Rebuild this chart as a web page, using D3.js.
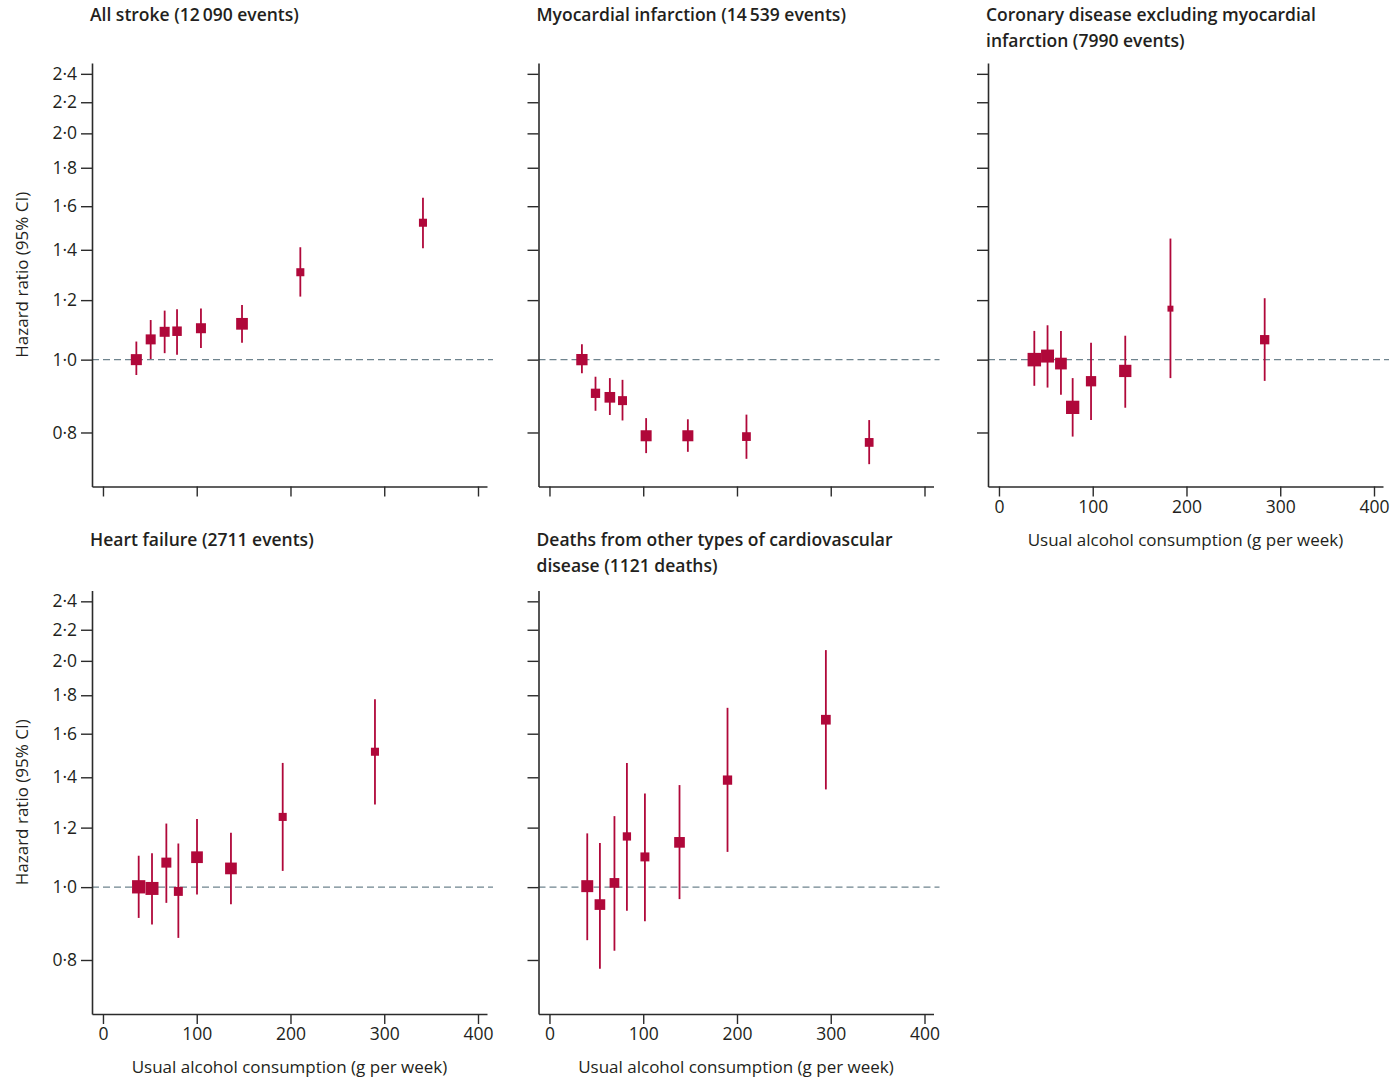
<!DOCTYPE html>
<html>
<head>
<meta charset="utf-8">
<script src="https://cdn.jsdelivr.net/npm/d3@7"></script>
<style>
  body { margin: 0; background: #fff; }
  svg text { font-family: "Open Sans", "DejaVu Sans", sans-serif; fill: #231f20; }
</style>
</head>
<body>
<svg id="chart" width="1393" height="1082"></svg>
<script>
// usual alcohol consumption (g/week) per category, hazard ratio, 95% CI, relative weight
const strokeX  = [35.6, 50.9, 65.8, 79.0, 104.5, 148.3, 210.5, 341.3];
const strokeHR = [1.000, 1.064, 1.089, 1.091, 1.101, 1.116, 1.307, 1.521];
const strokeLo = [0.954, 1.002, 1.020, 1.015, 1.036, 1.053, 1.213, 1.407];
const strokeHi = [1.057, 1.129, 1.162, 1.167, 1.170, 1.182, 1.411, 1.642];
const strokeW  = [0.62, 0.51, 0.51, 0.46, 0.51, 0.70, 0.33, 0.33];

const miX  = [34.6, 49.1, 64.4, 77.9, 103.1, 147.6, 210.1, 341.0];
const miHR = [1.000, 0.902, 0.891, 0.882, 0.792, 0.792, 0.790, 0.776];
const miLo = [0.959, 0.855, 0.844, 0.830, 0.751, 0.754, 0.738, 0.726];
const miHi = [1.048, 0.949, 0.945, 0.940, 0.836, 0.833, 0.845, 0.831];
const miW  = [0.65, 0.44, 0.58, 0.41, 0.62, 0.62, 0.39, 0.39];

const chdX  = [37.7, 51.8, 66.1, 78.6, 98.2, 134.7, 182.9, 283.4];
const chdHR = [1.000, 1.011, 0.988, 0.864, 0.936, 0.966, 1.169, 1.063];
const chdLo = [0.923, 0.918, 0.898, 0.790, 0.831, 0.863, 0.945, 0.937];
const chdHi = [1.092, 1.111, 1.092, 0.945, 1.053, 1.076, 1.449, 1.207];
const chdW  = [0.93, 0.86, 0.70, 0.90, 0.54, 0.77, 0.18, 0.44];

const hfX  = [38.1, 52.3, 67.6, 80.4, 100.3, 136.5, 191.7, 290.1];
const hfHR = [1.001, 0.996, 1.078, 0.987, 1.096, 1.059, 1.240, 1.514];
const hfLo = [0.910, 0.892, 0.953, 0.856, 0.978, 0.949, 1.051, 1.288];
const hfHi = [1.101, 1.109, 1.215, 1.143, 1.232, 1.181, 1.463, 1.778];
const hfW  = [0.90, 0.86, 0.51, 0.41, 0.70, 0.70, 0.33, 0.33];

const othX  = [40.3, 53.8, 69.3, 82.6, 101.8, 138.7, 189.9, 294.8];
const othHR = [1.003, 0.948, 1.013, 1.168, 1.097, 1.147, 1.388, 1.670];
const othLo = [0.850, 0.779, 0.823, 0.930, 0.901, 0.964, 1.114, 1.349];
const othHi = [1.179, 1.145, 1.243, 1.463, 1.332, 1.367, 1.732, 2.067];
const othW  = [0.73, 0.58, 0.48, 0.35, 0.41, 0.58, 0.44, 0.48];

const yTicks = [0.8, 1.0, 1.2, 1.4, 1.6, 1.8, 2.0, 2.2, 2.4];
const xTicks = [0, 100, 200, 300, 400];
const yLabel = "Hazard ratio (95% CI)";
const xLabel = "Usual alcohol consumption (g per week)";

const panels = [
  { title: ["All stroke (12\u2009090 events)"], x: strokeX, hr: strokeHR, lo: strokeLo, hi: strokeHi, w: strokeW, col: 0, row: 0, yLab: true, xLab: false },
  { title: ["Myocardial infarction (14\u2009539 events)"], x: miX, hr: miHR, lo: miLo, hi: miHi, w: miW, col: 1, row: 0, yLab: false, xLab: false },
  { title: ["Coronary disease excluding myocardial", "infarction (7990 events)"], x: chdX, hr: chdHR, lo: chdLo, hi: chdHi, w: chdW, col: 2, row: 0, yLab: false, xLab: true },
  { title: ["Heart failure (2711 events)"], x: hfX, hr: hfHR, lo: hfLo, hi: hfHi, w: hfW, col: 0, row: 1, yLab: true, xLab: true },
  { title: ["Deaths from other types of cardiovascular", "disease (1121 deaths)"], x: othX, hr: othHR, lo: othLo, hi: othHi, w: othW, col: 1, row: 1, yLab: false, xLab: true },
];

const red = "#b0083a";
const axisColor = "#2b2b2b";
const colLeft = [92, 538.5, 988];
const rowTop = [63, 590.5];
const titleBase = [21, 546];
const width = 395;
const height = 423.5;

const svg = d3.select("#chart");

const x = d3.scaleLinear().domain([-11.7, 409.6]).range([0, width]);
const y = d3.scaleLog().domain([0.678, 2.481]).range([height, 0]);
const size = d3.scaleSqrt().domain([0, 1]).range([0, 14]);
const fmt = (d) => d3.format(".1f")(d).replace(".", "\u00b7");

panels.forEach((p) => {
  const g = svg.append("g")
    .attr("transform", `translate(${colLeft[p.col]},${rowTop[p.row]})`);

  // title
  const title = g.append("text")
    .attr("x", -2)
    .attr("y", titleBase[p.row] - rowTop[p.row])
    .style("font-size", "17.5px")
    .style("font-weight", 600);
  p.title.forEach((line, i) => {
    title.append("tspan").attr("x", -2).attr("dy", i === 0 ? 0 : 26).text(line);
  });

  // reference line at HR = 1
  g.append("line")
    .attr("x1", 0)
    .attr("x2", width + 6)
    .attr("y1", y(1))
    .attr("y2", y(1))
    .attr("stroke", "#6f848e")
    .attr("stroke-width", 1.3)
    .attr("stroke-dasharray", "7,4");

  // y axis
  const yAxis = g.append("g")
    .call(d3.axisLeft(y).tickValues(yTicks).tickSize(11).tickSizeOuter(0).tickPadding(4)
      .tickFormat(p.yLab ? fmt : () => ""));

  // x axis
  const xAxis = g.append("g")
    .attr("transform", `translate(0,${height})`)
    .call(d3.axisBottom(x).tickValues(xTicks).tickSize(10).tickSizeOuter(0).tickPadding(4)
      .tickFormat(p.xLab ? d3.format("d") : () => ""));

  [yAxis, xAxis].forEach((ax) => {
    ax.select(".domain").attr("stroke", axisColor).attr("stroke-width", 1.6);
    ax.selectAll(".tick line").attr("stroke", axisColor).attr("stroke-width", 1.4);
    ax.selectAll(".tick text")
      .style("font-size", "17.5px")
      .style("font-family", "\"Open Sans\", sans-serif")
      .attr("fill", "#231f20");
  });

  if (p.yLab) {
    g.append("text")
      .attr("transform", `translate(-64,${height / 2}) rotate(-90)`)
      .attr("text-anchor", "middle")
      .style("font-size", "17px")
      .text(yLabel);
  }

  if (p.xLab) {
    g.append("text")
      .attr("x", width / 2)
      .attr("y", height + 59)
      .attr("text-anchor", "middle")
      .style("font-size", "17px")
      .text(xLabel);
  }

  const pts = p.x.map((v, i) => ({ x: v, hr: p.hr[i], lo: p.lo[i], hi: p.hi[i], w: p.w[i] }));

  // confidence intervals
  g.selectAll("line.ci")
    .data(pts)
    .join("line")
    .attr("class", "ci")
    .attr("x1", (d) => x(d.x))
    .attr("x2", (d) => x(d.x))
    .attr("y1", (d) => y(d.lo))
    .attr("y2", (d) => y(d.hi))
    .attr("stroke", red)
    .attr("stroke-width", 1.8);

  // point estimates, square size by weight
  g.selectAll("rect.pt")
    .data(pts)
    .join("rect")
    .attr("class", "pt")
    .attr("x", (d) => x(d.x) - size(d.w) / 2)
    .attr("y", (d) => y(d.hr) - size(d.w) / 2)
    .attr("width", (d) => size(d.w))
    .attr("height", (d) => size(d.w))
    .attr("fill", red);
});
</script>
</body>
</html>
